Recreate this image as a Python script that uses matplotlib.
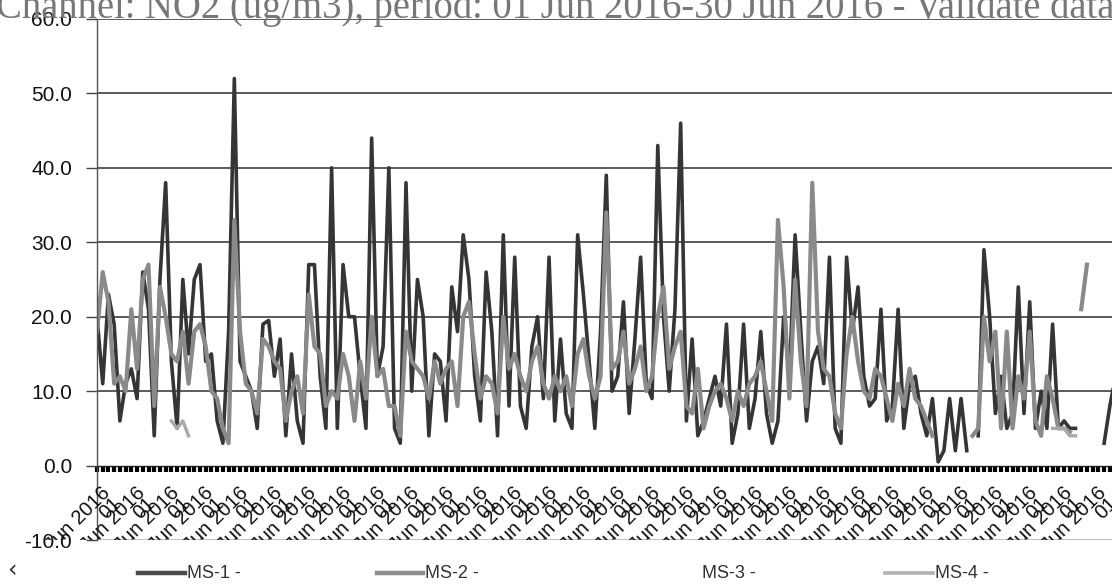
import numpy as np
import matplotlib
matplotlib.use("Agg")
import matplotlib.pyplot as plt
from matplotlib.lines import Line2D
from matplotlib.transforms import Bbox, TransformedBbox, offset_copy

nan = np.nan

TITLE = "Channel: NO2 (ug/m3), period: 01 Jun 2016-30 Jun 2016 - Validate data"

# hourly records, one reading every 4 hours
hours = np.arange(0, 720, 4)
days = np.arange(1, 31)
day_labels = [f"{d:02d} Jun 2016\n01" for d in days]
y_ticks = [-10, 0, 10, 20, 30, 40, 50, 60]

ms1 = [20, 11, 23, 19, 6, 11, 13, 9, 26, 21,
       4, 25, 38, 14, 5, 25, 15, 25, 27, 14,
       15, 6, 3, 18, 52, 14, 12, 10, 5, 19,
       19.5, 12, 17, 4, 15, 6, 3, 27, 27, 12,
       5, 40, 5, 27, 20, 20, 12, 5, 44, 12,
       16, 40, 5, 3, 38, 10, 25, 20, 4, 15,
       14, 6, 24, 18, 31, 25, 12, 6, 26, 18,
       4, 31, 8, 28, 8, 5, 16, 20, 9, 28,
       6, 17, 7, 5, 31, 23, 14, 5, 18, 39,
       10, 12, 22, 7, 17, 28, 11, 9, 43, 20,
       10, 21, 46, 6, 17, 4, 6, 9, 12, 8,
       19, 3, 7, 19, 5, 9, 18, 7, 3, 6,
       20, 12, 31, 18, 6, 14, 16, 11, 28, 5,
       3, 28, 18, 24, 12, 8, 9, 21, 6, 8,
       21, 5, 11, 12, 7, 4, 9, 0.5, 2, 9,
       2, 9, 2, nan, 4, 29, 20, 7, 12, 5,
       7, 24, 7, 22, 5, 10, 5, 19, 5, 6,
       5, 5, nan, nan, nan, nan, 3, 8, 12, 15]

ms2 = [18, 26, 22, 11, 12, 10, 21, 13, 25, 27,
       8, 24, 20, 15, 14, 18, 11, 18, 19, 16,
       10, 9, 5, 3, 33, 18, 11, 10, 7, 17,
       16, 14, 13, 6, 10, 12, 7, 23, 16, 15,
       8, 10, 9, 15, 12, 6, 14, 9, 20, 12,
       13, 8, 8, 4, 18, 14, 13, 12, 9, 14,
       11, 13, 14, 8, 20, 22, 15, 9, 12, 11,
       7, 20, 13, 15, 12, 10, 14, 16, 11, 9,
       12, 10, 12, 8, 15, 17, 12, 9, 12, 34,
       13, 14, 18, 11, 13, 16, 10, 12, 20, 24,
       13, 16, 18, 8, 7, 13, 5, 8, 10, 11,
       9, 6, 10, 8, 11, 12, 14, 10, 6, 33,
       24, 9, 25, 14, 8, 38, 18, 13, 12, 7,
       5, 15, 20, 14, 10, 9, 13, 12, 9, 6,
       11, 8, 13, 9, 8, 6, 4, nan, nan, nan,
       nan, nan, nan, 4, 5, 20, 14, 18, 5, 18,
       5, 12, 9, 18, 6, 4, 12, 9, 5, 5,
       4.5, nan, 21, 27, nan, nan, nan, nan, nan, nan]

ms3 = [nan] * len(hours)

ms4 = [nan] * 13 + [6, 5, 6, 4] + [nan] * 150 + [5, 5, 5, 4, 4] + [nan] * 8

W, H = 1112, 587
fig = plt.figure(figsize=(W / 100, H / 100), dpi=100)
ax = fig.add_axes([97 / W, 1 - 540 / H, (1127 - 97) / W, (540 - 19) / H])

ax.plot(hours, ms1, color='#353535', lw=2.6, solid_joinstyle='round')
ax.plot(hours, ms2, color='#8a8a8a', lw=3.0, solid_joinstyle='round')
ax.plot(hours, ms3, color='#000000', lw=2)
ax.plot(hours, ms4, color='#a8a8a8', lw=2.4, solid_joinstyle='round')

ax.set_xlim(0, 720)
ax.set_ylim(-10, 60)

# horizontal gridlines
ax.hlines(y_ticks[2:], 0, 720, color='#404040', lw=1.2, zorder=0)
ax.axhline(-10, color='#b5b5b5', lw=1.2, zorder=0)

for s in ['top', 'right']:
    ax.spines[s].set_visible(False)
ax.spines['left'].set_color('#555555')
ax.spines['left'].set_linewidth(1.0)
ax.spines['left'].set_linestyle((0, (2, 1)))
ax.spines['bottom'].set_position(('data', 0))
ax.spines['bottom'].set_color('#222222')
ax.spines['bottom'].set_linewidth(1.0)

ax.set_yticks(y_ticks)
ax.set_yticklabels([f"{v:.1f}" for v in y_ticks], family='Liberation Sans',
                   fontsize=15, color='#111111')
ax.tick_params(axis='y', length=8, width=1, color='#444444', pad=10)

ax.set_xticks(hours)
ax.set_xticklabels([])
ax.tick_params(axis='x', length=4.2, width=3.0, color='#000000', direction='out')

# rotated day labels, cut off at the bottom of the plot area
clip = TransformedBbox(Bbox([[0, 1 - 540 / H], [1, 1]]), fig.transFigure)
for d, lab in zip(days, day_labels):
    tr = offset_copy(ax.transData, fig=fig, x=4, y=-18, units='dots')
    t = ax.text((d - 1) * 24, 0, lab, transform=tr, rotation=45,
                rotation_mode='anchor', ha='right', va='top',
                family='Liberation Sans', fontsize=14.5, color='#111111',
                linespacing=0.7)
    t.set_clip_box(clip)
    t.set_clip_on(True)

# title, partly off the top edge
title = fig.text(-0.004, 1 - 18 / H, TITLE, family='Liberation Serif', fontsize=24,
                 color='#777777', ha='left', va='baseline')
fig.canvas.draw()
w = title.get_window_extent().width
title.set_fontsize(24 * 1122 / w)

# legend along the bottom
ly = 1 - 573 / H
legend_items = [("MS-1 -", '#4a4a4a', 3.2, 138, 185),
                ("MS-2 -", '#8e8e8e', 3.2, 377, 423),
                ("MS-3 -", 'none', 0, 655, 700),
                ("MS-4 -", '#b2b2b2', 2.6, 885, 933)]
for name, col, lw, x0, x1 in legend_items:
    if col != 'none':
        fig.add_artist(Line2D([x0 / W, x1 / W], [ly, ly], color=col, lw=lw,
                              transform=fig.transFigure))
    fig.text((x1 + 2) / W, ly, name, family='Liberation Sans', fontsize=13,
             color='#333333', ha='left', va='center')
fig.text(7 / W, ly + 0.004, "\u2039", family='DejaVu Sans', fontsize=17,
         color='#333333', ha='left', va='center')

fig.savefig('out.png', dpi=100)
